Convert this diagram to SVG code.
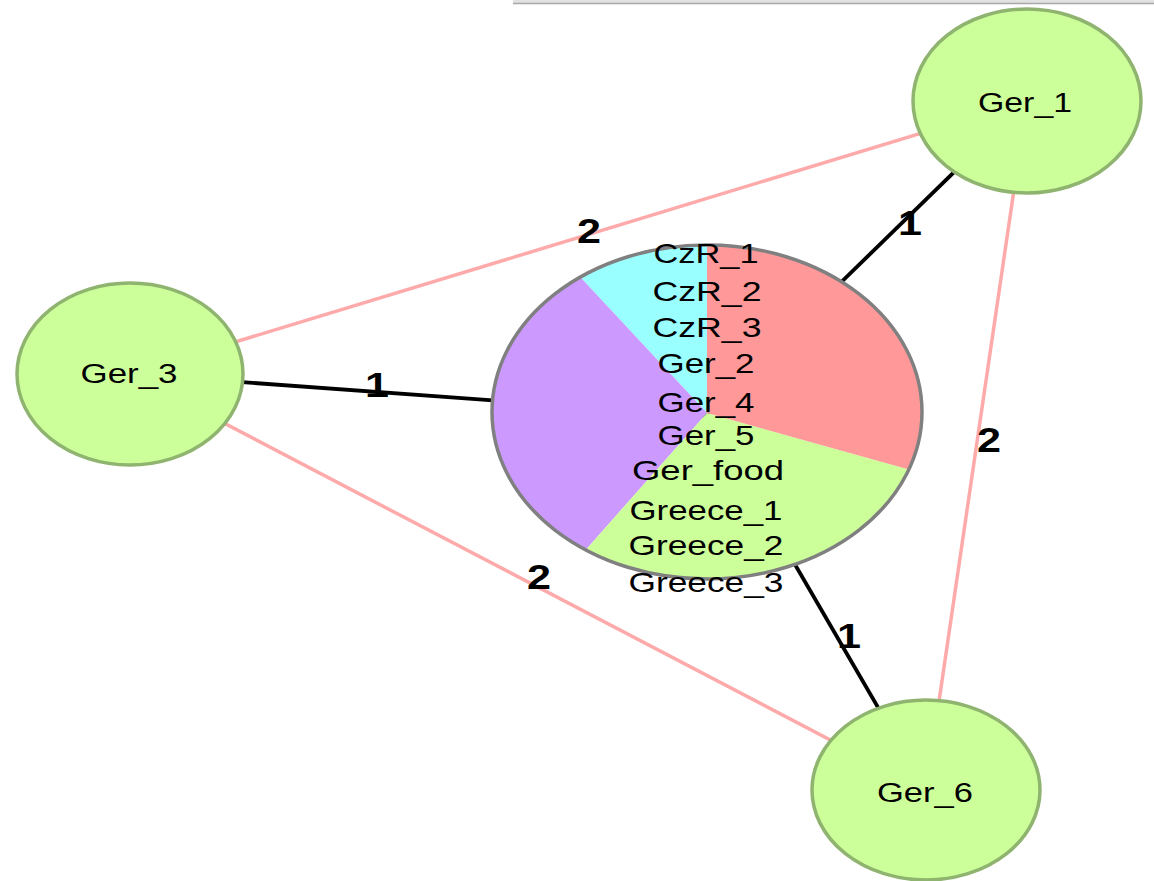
<svg xmlns="http://www.w3.org/2000/svg" width="1154" height="881" viewBox="0 0 1154 881">
<style>
.node{fill:#ccff99;stroke:#8fb46f;stroke-width:3.5}
.nt{font-family:"Liberation Sans",Arial,sans-serif;font-size:27px;fill:#000;text-anchor:middle}
.pk{stroke:#ffaaaa;stroke-width:3.5;fill:none}
.bk{stroke:#000;stroke-width:3.8;fill:none}
.el{font-family:"Liberation Sans",Arial,sans-serif;font-size:35px;font-weight:bold;fill:#000;text-anchor:middle}
.ct{font-family:"Liberation Sans",Arial,sans-serif;font-size:28px;fill:#000;text-anchor:middle}
</style>
<rect x="0" y="0" width="1154" height="881" fill="#fff"/>
<rect x="513" y="0" width="641" height="3" fill="#e2e2e2"/>
<line x1="513" y1="3.5" x2="1154" y2="3.5" stroke="#a8a8a8" stroke-width="1.5"/>
<g id="connectors">
<line class="pk" x1="1027" y1="101" x2="130" y2="374"/>
<line class="pk" x1="1027" y1="101" x2="926" y2="790"/>
<line class="pk" x1="130" y1="374" x2="926" y2="790"/>
<line class="bk" x1="1027" y1="101" x2="707" y2="413"/>
<line class="bk" x1="130" y1="374" x2="707" y2="416"/>
<line class="bk" x1="926" y1="790" x2="707" y2="413"/>
</g>
<g id="edge-labels">
<text class="el" x="589" y="243" textLength="24" lengthAdjust="spacingAndGlyphs">2</text>
<text class="el" x="910" y="235" textLength="24" lengthAdjust="spacingAndGlyphs">1</text>
<text class="el" x="377" y="397" textLength="24" lengthAdjust="spacingAndGlyphs">1</text>
<text class="el" x="989" y="452" textLength="24" lengthAdjust="spacingAndGlyphs">2</text>
<text class="el" x="539" y="589" textLength="24" lengthAdjust="spacingAndGlyphs">2</text>
<text class="el" x="849" y="648" textLength="24" lengthAdjust="spacingAndGlyphs">1</text>
</g>
<g id="node-center">
<path d="M707,413 L707,245 A215,167 0 0 0 580.2,277.1 Z" fill="#99ffff"/>
<path d="M707,413 L580.2,277.1 A215,167 0 0 0 585.7,549.9 Z" fill="#cc99ff"/>
<path d="M707,413 L585.7,549.9 A215,167 0 0 0 908.9,469.5 Z" fill="#ccff99"/>
<path d="M707,413 L908.9,469.5 A215,167 0 0 0 707,245 Z" fill="#ff9999"/>
<ellipse cx="707" cy="412" rx="215" ry="167" fill="none" stroke="#808080" stroke-width="3.5"/>
<text class="ct" x="706" y="263" textLength="105" lengthAdjust="spacingAndGlyphs">CzR_1</text>
<text class="ct" x="707" y="301" textLength="109" lengthAdjust="spacingAndGlyphs">CzR_2</text>
<text class="ct" x="707" y="337" textLength="109" lengthAdjust="spacingAndGlyphs">CzR_3</text>
<text class="ct" x="706" y="373" textLength="97" lengthAdjust="spacingAndGlyphs">Ger_2</text>
<text class="ct" x="706" y="412" textLength="97" lengthAdjust="spacingAndGlyphs">Ger_4</text>
<text class="ct" x="706" y="445" textLength="97" lengthAdjust="spacingAndGlyphs">Ger_5</text>
<text class="ct" x="708" y="480" textLength="152" lengthAdjust="spacingAndGlyphs">Ger_food</text>
<text class="ct" x="706" y="520" textLength="153" lengthAdjust="spacingAndGlyphs">Greece_1</text>
<text class="ct" x="706" y="555" textLength="155" lengthAdjust="spacingAndGlyphs">Greece_2</text>
<text class="ct" x="706" y="592" textLength="155" lengthAdjust="spacingAndGlyphs">Greece_3</text>
</g>
<g id="node-ger1">
<ellipse class="node" cx="1027" cy="101" rx="114" ry="92"/>
<text class="nt" x="1025" y="112" textLength="94" lengthAdjust="spacingAndGlyphs">Ger_1</text>
</g>
<g id="node-ger3">
<ellipse class="node" cx="130" cy="374" rx="113" ry="91"/>
<text class="nt" x="129" y="383" textLength="97" lengthAdjust="spacingAndGlyphs">Ger_3</text>
</g>
<g id="node-ger6">
<ellipse class="node" cx="926" cy="790" rx="114" ry="90"/>
<text class="nt" x="925" y="802" textLength="96" lengthAdjust="spacingAndGlyphs">Ger_6</text>
</g>
</svg>
